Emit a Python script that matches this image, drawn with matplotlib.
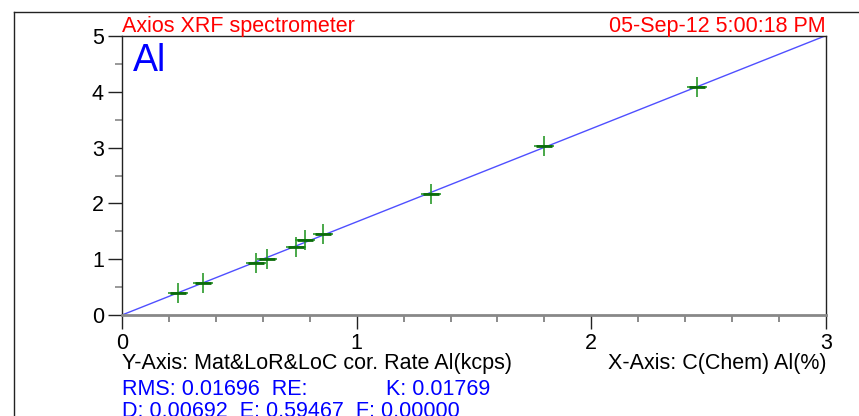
import matplotlib
matplotlib.use("Agg")
import matplotlib.pyplot as plt
from matplotlib.lines import Line2D
import numpy as np

plt.rcParams['font.family'] = ['Liberation Sans', 'DejaVu Sans']

# calibration standards: chemical concentration vs corrected intensity
conc_al = [0.24, 0.347, 0.571, 0.617, 0.741, 0.78, 0.858, 1.317, 1.80, 2.452]
rate_al = [0.389, 0.58, 0.926, 0.998, 1.224, 1.344, 1.452, 2.168, 3.03, 4.09]

x_ticks = [0, 1, 2, 3]
y_ticks = [0, 1, 2, 3, 4, 5]

header_left = 'Axios XRF spectrometer'
header_right = '05-Sep-12 5:00:18 PM'
element = 'Al'
y_axis_text = 'Y-Axis: Mat&LoR&LoC cor. Rate Al(kcps)'
x_axis_text = 'X-Axis: C(Chem) Al(%)'
stats_line1 = 'RMS: 0.01696  RE:'
stats_k = 'K: 0.01769'
stats_line2 = 'D: 0.00692  E: 0.59467  F: 0.00000'

W, H = 859, 416
fig = plt.figure(figsize=(W / 100, H / 100), dpi=100)

# outer frame (top and left edges)
fig.add_artist(Line2D([14 / W, 1], [1 - 12 / H, 1 - 12 / H], color='#222222', lw=1.0))
fig.add_artist(Line2D([14 / W, 14 / W], [0, 1 - 12 / H], color='#222222', lw=1.0))

ax = fig.add_axes([122 / W, (H - 315) / H, 704 / W, 279 / H])

# fitted line through origin
x = np.array(conc_al)
y = np.array(rate_al)
slope = np.sum(x * y) / np.sum(x * x)
xl = np.array([0, x_ticks[-1]])
ax.plot(xl, slope * xl, color='#3030ff', lw=1.0, alpha=0.85, zorder=2)

ax.plot(conc_al, rate_al, linestyle='none', marker='+', markersize=14,
        markeredgewidth=1.2, color='#2a9a2a', zorder=3)
ax.plot(conc_al, rate_al, linestyle='none', marker='_', markersize=12,
        markeredgewidth=2.0, color='#0b6b0b', zorder=3)

ax.set_xlim(0, 3)
ax.set_ylim(0, 5)

for side in ['top', 'right', 'left']:
    ax.spines[side].set_color('#222222')
    ax.spines[side].set_linewidth(1.0)
ax.spines['bottom'].set_color('#888888')
ax.spines['bottom'].set_linewidth(2.0)

ax.set_xticks(x_ticks)
ax.set_xticks(np.arange(0, 3.01, 0.2), minor=True)
ax.set_yticks(y_ticks)
ax.set_yticks(np.arange(0.5, 5, 1.0), minor=True)
ax.tick_params(axis='both', which='major', length=10, width=1.0, color='#222222',
               labelsize=15.5, pad=3)
ax.tick_params(axis='x', which='minor', length=5, width=1.2, color='#777777')
ax.tick_params(axis='y', which='minor', length=5, width=1.2, color='#888888')

# header above the plot area
fig.text(122 / W, 1 - 32 / H, header_left, color='red',
         fontsize=15.5, ha='left', va='baseline')
fig.text(826 / W, 1 - 32 / H, header_right, color='red',
         fontsize=15.5, ha='right', va='baseline')
ax.text(0.015, 0.975, element, transform=ax.transAxes, color='blue',
        fontsize=27, ha='left', va='top')

# axis descriptions and fit statistics below the plot
fig.text(122 / W, 1 - 369 / H, y_axis_text, fontsize=15.5, va='baseline', ha='left')
fig.text(826 / W, 1 - 369 / H, x_axis_text, fontsize=15.5, va='baseline', ha='right')
fig.text(122 / W, 1 - 395 / H, stats_line1, fontsize=15.5, va='baseline', ha='left', color='blue')
fig.text(386 / W, 1 - 395 / H, stats_k, fontsize=15.5, va='baseline', ha='left', color='blue')
fig.text(122 / W, 1 - 417 / H, stats_line2, fontsize=15.5, va='baseline', ha='left', color='blue')

fig.savefig('out.png', dpi=100)
